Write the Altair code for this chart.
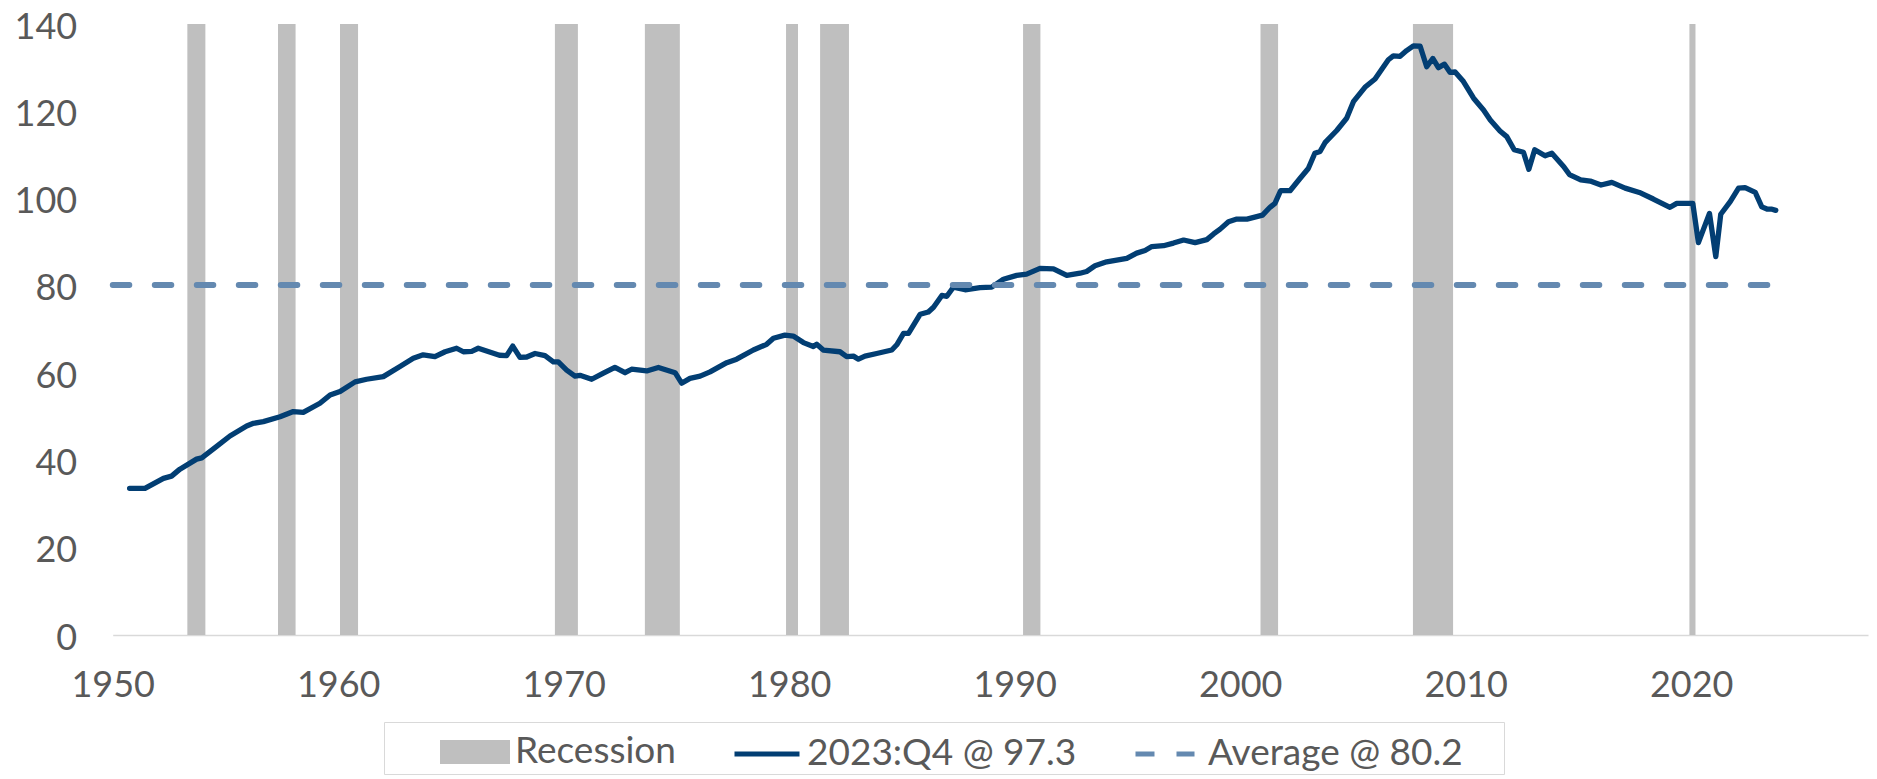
import altair as alt
import pandas as pd

# ---------------- data ----------------
years = [1950.75, 1951.43, 1952.25, 1952.61, 1952.98, 1953.72, 1953.95, 1954.61, 1955.20, 1955.94,
         1956.24, 1956.68, 1957.42, 1958.01, 1958.45, 1959.19, 1959.64, 1960.08, 1960.75, 1961.26,
         1962.00, 1962.74, 1963.33, 1963.77, 1964.29, 1964.74, 1965.25, 1965.55, 1965.92, 1966.21,
         1967.15, 1967.47, 1967.74, 1968.06, 1968.36, 1968.73, 1969.17, 1969.54, 1969.76, 1970.13,
         1970.50, 1970.72, 1971.24, 1971.76, 1972.27, 1972.72, 1973.01, 1973.68, 1974.20, 1974.94,
         1975.23, 1975.60, 1976.05, 1976.49, 1977.23, 1977.67, 1978.41, 1979.00, 1979.30, 1979.81,
         1980.18, 1980.63, 1981.07, 1981.22, 1981.51, 1982.25, 1982.55, 1982.85, 1983.07, 1983.36,
         1983.88, 1984.55, 1984.77, 1985.07, 1985.29, 1985.81, 1986.17, 1986.40, 1986.77, 1986.99,
         1987.28, 1987.80, 1988.46, 1988.98, 1989.50, 1990.09, 1990.53, 1991.12, 1991.72, 1992.31,
         1992.90, 1993.19, 1993.56, 1994.08, 1994.97, 1995.41, 1995.78, 1996.08, 1996.60, 1997.04,
         1997.49, 1998.00, 1998.52, 1998.82, 1999.11, 1999.48, 1999.85, 2000.30, 2000.99, 2001.32,
         2001.54, 2001.79, 2002.21, 2002.65, 2003.02, 2003.31, 2003.54, 2003.76, 2004.28, 2004.72,
         2005.02, 2005.53, 2005.98, 2006.27, 2006.57, 2006.79, 2007.09, 2007.38, 2007.68, 2007.98,
         2008.27, 2008.54, 2008.79, 2009.06, 2009.31, 2009.53, 2009.90, 2010.35, 2010.79, 2011.09,
         2011.52, 2011.82, 2012.15, 2012.56, 2012.80, 2013.06, 2013.52, 2013.82, 2014.35, 2014.60,
         2015.10, 2015.52, 2016.00, 2016.48, 2017.07, 2017.70, 2018.32, 2019.06, 2019.36, 2020.07,
         2020.32, 2020.81, 2021.09, 2021.31, 2021.73, 2022.10, 2022.39, 2022.84, 2023.13, 2023.36,
         2023.55, 2023.75]
values = [33.6, 33.6, 35.9, 36.4, 38.0, 40.3, 40.6, 43.2, 45.6, 47.9,
          48.5, 48.9, 50.0, 51.2, 51.0, 53.1, 55.0, 55.8, 58.0, 58.6,
          59.2, 61.5, 63.4, 64.2, 63.8, 64.9, 65.7, 64.9, 65.0, 65.7,
          64.1, 64.0, 66.2, 63.6, 63.7, 64.5, 64.0, 62.6, 62.6, 60.7,
          59.3, 59.5, 58.6, 60.0, 61.3, 60.1, 60.9, 60.5, 61.3, 60.1,
          57.7, 58.8, 59.3, 60.3, 62.4, 63.2, 65.3, 66.6, 68.0, 68.7,
          68.5, 67.0, 66.1, 66.6, 65.3, 64.9, 63.8, 63.9, 63.2, 63.9,
          64.5, 65.3, 66.5, 69.1, 69.1, 73.5, 74.0, 75.1, 77.8, 77.6,
          79.7, 79.1, 79.6, 79.7, 81.5, 82.4, 82.7, 84.0, 83.9, 82.4,
          82.9, 83.3, 84.6, 85.5, 86.3, 87.5, 88.1, 89.0, 89.2, 89.8,
          90.5, 89.9, 90.6, 91.9, 93.0, 94.7, 95.3, 95.3, 96.2, 98.0,
          98.9, 101.8, 101.8, 104.6, 106.9, 110.4, 110.8, 112.8, 115.6, 118.4,
          122.2, 125.5, 127.4, 129.6, 131.8, 132.7, 132.6, 133.9, 135.0, 134.9,
          130.2, 132.1, 130.0, 130.8, 128.9, 129.0, 126.8, 123.0, 120.3, 118.0,
          115.5, 114.2, 111.2, 110.6, 106.7, 111.2, 109.8, 110.4, 107.3, 105.5,
          104.3, 104.0, 103.1, 103.7, 102.4, 101.4, 99.9, 98.0, 98.9, 98.9,
          89.9, 96.6, 86.7, 96.4, 99.3, 102.4, 102.5, 101.4, 98.1, 97.6,
          97.6, 97.3]

rec_start = [1953.31, 1957.33, 1960.08, 1969.61, 1973.60, 1979.86, 1981.37, 1990.37, 2000.90, 2007.66, 2019.92]
rec_end = [1954.11, 1958.11, 1960.88, 1970.63, 1975.15, 1980.39, 1982.65, 1991.14, 2001.68, 2009.44, 2020.19]
rec_level = 140

avg_value = 80.2
avg_start = 1950.0
avg_end = 2023.75

x_ticks = [1950, 1960, 1970, 1980, 1990, 2000, 2010, 2020]
y_ticks = [0, 20, 40, 60, 80, 100, 120, 140]
x_domain = [1950, 2027.84]
y_domain = [0, 140]

legend_labels = ["Recession", "2023:Q4 @ 97.3", "Average @ 80.2"]

# ---------------- styling ----------------
LINE_C = "#023E73"
AVG_C = "#6489B0"
REC_C = "#BFBFBF"
TXT_C = "#595959"
FONT = "Lato"

line_df = pd.DataFrame({"year": years, "value": values})
rec_df = pd.DataFrame({"start": rec_start, "end": rec_end,
                       "top": [rec_level] * len(rec_start), "bottom": [0] * len(rec_start)})
avg_df = pd.DataFrame({"start": [avg_start], "end": [avg_end], "value": [avg_value]})
leg_df = pd.DataFrame({"series": legend_labels})

xs = alt.Scale(domain=x_domain, nice=False, zero=False)
ys = alt.Scale(domain=y_domain, nice=False, zero=True)

xaxis = alt.Axis(values=x_ticks, format="d", title=None, grid=False, ticks=False, tickSize=0,
                 domain=True, domainColor="#D9D9D9", domainWidth=1.5,
                 labelFont=FONT, labelFontSize=36, labelColor=TXT_C, labelPadding=33,
                 labelFlush=False, labelOverlap=False)
yaxis = alt.Axis(values=y_ticks, title=None, grid=False, ticks=False, tickSize=0, domain=False,
                 labelFont=FONT, labelFontSize=36, labelColor=TXT_C, labelPadding=36,
                 labelOffset=3)

bars = alt.Chart(rec_df).mark_rect(color=REC_C).encode(
    x=alt.X("start:Q", scale=xs, axis=xaxis),
    x2="end:Q",
    y=alt.Y("top:Q", scale=ys, axis=yaxis),
    y2="bottom:Q",
)

line = alt.Chart(line_df).mark_line(color=LINE_C, strokeWidth=5.3, strokeJoin="round",
                                    strokeCap="round").encode(
    x=alt.X("year:Q", scale=xs, axis=xaxis),
    y=alt.Y("value:Q", scale=ys, axis=yaxis),
)

avg = alt.Chart(avg_df).mark_rule(color=AVG_C, strokeWidth=5.8, strokeDash=[16.7, 25.3],
                                  strokeCap="round").encode(
    x=alt.X("start:Q", scale=xs, axis=xaxis),
    x2="end:Q",
    y=alt.Y("value:Q", scale=ys, axis=yaxis),
)

# legend symbols (custom paths, unit = 27.5px -> entry size 60px)
rect_path = "M-1.273,-0.436H1.273V0.436H-1.273Z"
line_path = "M-1.182,0H1.182"
dash_path = "M-1.182,0H-0.491M0.309,0H0.964M11.85,0"

leg = alt.Legend(title=None, orient="none", legendX=271.3, legendY=698,
                 direction="horizontal", columns=3, columnPadding=-11, padding=0,
                 strokeColor="#D9D9D9", symbolSize=3025, symbolStrokeWidth=5,
                 symbolOpacity=1, symbolOffset=61, labelFont=FONT, labelFontSize=37,
                 labelColor=TXT_C, labelOffset=10, labelLimit=600)

legend_layer = alt.Chart(leg_df).transform_filter("false").mark_point(
    opacity=1, strokeWidth=5, strokeCap="round", size=3025
).encode(
    fill=alt.Fill("series:N", scale=alt.Scale(domain=legend_labels,
                                              range=[REC_C, "transparent", "transparent"]), legend=leg),
    stroke=alt.Stroke("series:N", scale=alt.Scale(domain=legend_labels,
                                                  range=["transparent", LINE_C, AVG_C]), legend=leg),
    shape=alt.Shape("series:N", scale=alt.Scale(domain=legend_labels,
                                                range=[rect_path, line_path, dash_path]), legend=leg),
)

chart = alt.layer(bars, line, avg, legend_layer).properties(
    width=1755.3, height=611,
    autosize=alt.AutoSizeParams(type="none"),
    padding={"left": 104.7, "top": 16, "right": 1, "bottom": 142},
    background="white",
).configure_view(strokeWidth=0)

chart.save("out.html", embed_options={"renderer": "svg", "actions": False})
